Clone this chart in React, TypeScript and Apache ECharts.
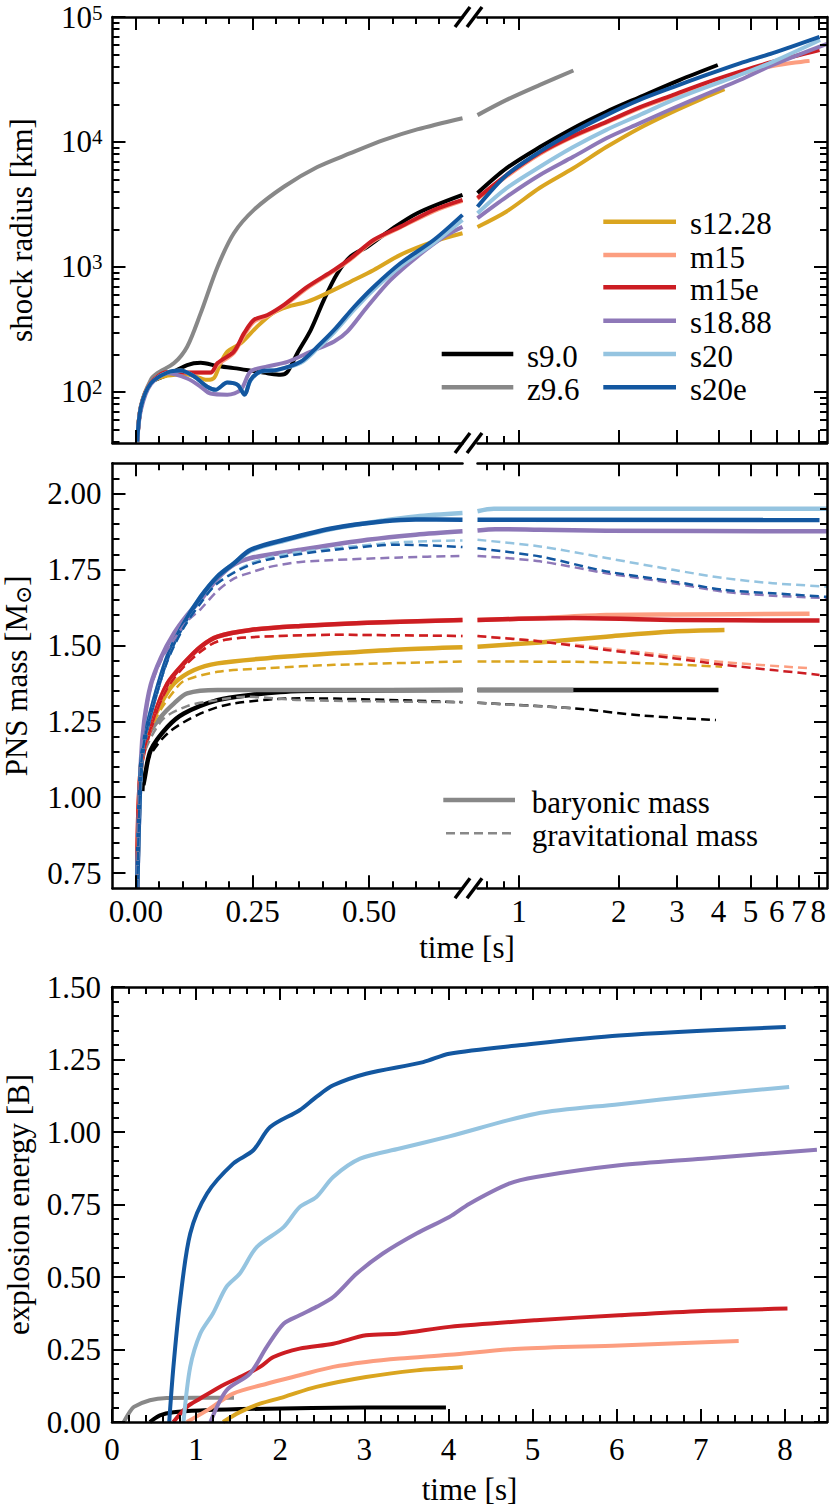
import React, { useEffect, useRef } from "react";
import * as echarts from "echarts";

const FONT = "'Liberation Serif', 'DejaVu Serif', serif";
const FS = 31;

// ---------- models ----------
const models = ["s9.0", "z9.6", "s12.28", "m15", "m15e", "s18.88", "s20", "s20e"];
const colors = ["#000000", "#888888", "#DAA520", "#FC9E80", "#CC1D23", "#8E78B8", "#95C4E0", "#1357A0"];

// ---------- shock radius [km] vs time [s] ----------
const radiusS90 = [[0.003,40],[0.011,76],[0.032,118],[0.068,137],[0.11,164],[0.139,171],[0.175,161],[0.21,155],[0.246,148],[0.282,141],[0.31,137],[0.325,145],[0.346,204],[0.375,314],[0.403,545],[0.432,890],[0.46,1210],[0.496,1450],[0.546,1980],[0.603,2690],[0.7,3770],[0.75,3900],[0.918,6170],[1.157,9100],[1.458,12900],[1.836,17460],[2.31,22800],[3.05,31300],[3.98,41300]];
const radiusZ96 = [[0.003,40],[0.011,78],[0.032,125],[0.046,141],[0.082,170],[0.11,230],[0.139,427],[0.175,1000],[0.21,1860],[0.253,2860],[0.318,4400],[0.389,6300],[0.46,8130],[0.532,10380],[0.603,12600],[0.7,15500],[0.75,16400],[0.918,21700],[1.157,28600],[1.46,37300]];
const radiusS1228 = [[0.003,40],[0.011,76],[0.032,118],[0.068,135],[0.11,138],[0.153,125],[0.168,130],[0.18,165],[0.196,210],[0.225,245],[0.26,333],[0.293,426],[0.325,480],[0.368,527],[0.41,617],[0.46,762],[0.51,946],[0.567,1250],[0.639,1600],[0.7,1860],[0.75,2090],[0.918,2780],[1.157,4300],[1.458,6160],[1.836,9100],[2.31,12900],[2.92,17500],[3.68,23000],[4.17,26500]];
const radiusM15 = [[0.003,40],[0.011,76],[0.032,118],[0.068,143],[0.11,142],[0.16,142],[0.175,165],[0.21,205],[0.232,285],[0.253,365],[0.282,405],[0.318,490],[0.368,680],[0.425,930],[0.46,1150],[0.51,1620],[0.567,2070],[0.639,2800],[0.7,3380],[0.75,3500],[0.918,5300],[1.157,8000],[1.458,11000],[1.836,14300],[2.31,18600],[2.92,23300],[3.68,29000],[4.64,35000],[5.83,40500],[7.53,44700]];
const radiusM15e = [[0.003,40],[0.011,76],[0.032,118],[0.068,144],[0.11,143],[0.16,143],[0.175,170],[0.21,210],[0.232,295],[0.253,377],[0.282,413],[0.318,500],[0.368,695],[0.425,946],[0.46,1170],[0.51,1650],[0.567,2100],[0.639,2860],[0.7,3440],[0.75,3570],[0.918,5440],[1.157,8200],[1.458,11200],[1.836,14500],[2.31,18900],[2.92,23800],[3.68,29800],[4.64,36500],[5.83,43800],[8.07,54500]];
const radiusS1888 = [[0.003,40],[0.011,72],[0.032,115],[0.068,141],[0.11,128],[0.139,110],[0.16,97],[0.196,95],[0.225,104],[0.246,146],[0.282,160],[0.325,174],[0.375,210],[0.425,253],[0.453,303],[0.496,480],[0.546,787],[0.603,1210],[0.66,1740],[0.7,2090],[0.75,2460],[0.918,3640],[1.157,5440],[1.458,7600],[1.836,10700],[2.31,14100],[2.92,18600],[3.68,24200],[4.64,31300],[5.83,41300],[8.5,61000]];
const radiusS20 = [[0.003,40],[0.011,76],[0.032,117],[0.068,143],[0.096,148],[0.125,133],[0.153,110],[0.171,104],[0.196,119],[0.218,114],[0.233,97],[0.246,124],[0.268,145],[0.303,150],[0.353,170],[0.389,222],[0.425,300],[0.468,455],[0.51,660],[0.567,1010],[0.639,1560],[0.7,2380],[0.75,2690],[0.918,4270],[1.157,6330],[1.458,9100],[1.836,12500],[2.31,16400],[2.92,21700],[3.68,27500],[4.64,34400],[5.83,43800],[8.1,65500]];
const radiusS20e = [[0.003,40],[0.011,76],[0.032,117],[0.068,143],[0.096,148],[0.125,133],[0.153,110],[0.171,104],[0.196,119],[0.218,114],[0.233,95],[0.246,125],[0.268,146],[0.303,150],[0.353,174],[0.389,230],[0.425,313],[0.468,480],[0.51,695],[0.567,1070],[0.639,1650],[0.7,2610],[0.75,3030],[0.918,5440],[1.157,8360],[1.458,12000],[1.836,16400],[2.31,21700],[2.92,27500],[3.68,34400],[4.64,42600],[5.83,51400],[8.07,69400]];

// ---------- PNS baryonic mass [Msun] ----------
const baryonS90 = [[0.016,1.04],[0.018,1.056],[0.032,1.155],[0.068,1.232],[0.103,1.276],[0.175,1.32],[0.246,1.337],[0.35,1.35],[0.7,1.353],[0.75,1.353],[4.0,1.353]];
const baryonZ96 = [[0.003,0.7],[0.011,1.1],[0.025,1.2],[0.054,1.265],[0.082,1.309],[0.11,1.342],[0.175,1.353],[0.7,1.353],[0.75,1.353],[1.46,1.353]];
const baryonS1228 = [[0.003,0.7],[0.011,1.1],[0.025,1.21],[0.054,1.309],[0.082,1.375],[0.125,1.419],[0.175,1.441],[0.282,1.458],[0.425,1.474],[0.567,1.487],[0.7,1.494],[0.75,1.496],[1.157,1.51],[1.836,1.529],[2.92,1.546],[4.17,1.551]];
const baryonM15 = [[0.003,0.7],[0.011,1.1],[0.039,1.265],[0.068,1.375],[0.103,1.441],[0.139,1.496],[0.175,1.529],[0.246,1.551],[0.353,1.564],[0.496,1.575],[0.7,1.584],[0.75,1.584],[1.157,1.59],[1.836,1.6],[3.0,1.602],[7.53,1.604]];
const baryonM15e = [[0.003,0.7],[0.011,1.1],[0.039,1.265],[0.068,1.375],[0.103,1.441],[0.139,1.496],[0.175,1.529],[0.246,1.551],[0.353,1.564],[0.496,1.575],[0.7,1.584],[0.75,1.584],[1.458,1.59],[2.92,1.584],[8.07,1.582]];
const baryonS1888 = [[0.003,0.7],[0.011,1.12],[0.018,1.25],[0.032,1.37],[0.054,1.46],[0.082,1.54],[0.11,1.6],[0.139,1.65],[0.175,1.72],[0.21,1.766],[0.246,1.788],[0.353,1.815],[0.496,1.848],[0.6,1.865],[0.7,1.876],[0.75,1.879],[0.85,1.883],[1.157,1.881],[1.836,1.878],[8.5,1.876]];
const baryonS20 = [[0.003,0.7],[0.011,1.1],[0.02,1.2],[0.039,1.32],[0.068,1.463],[0.103,1.573],[0.139,1.66],[0.175,1.727],[0.21,1.77],[0.246,1.812],[0.318,1.845],[0.425,1.885],[0.532,1.912],[0.6,1.925],[0.7,1.936],[0.75,1.942],[0.84,1.95],[8.5,1.95]];
const baryonS20e = [[0.003,0.7],[0.011,1.1],[0.02,1.2],[0.039,1.32],[0.068,1.463],[0.103,1.573],[0.139,1.66],[0.175,1.727],[0.21,1.77],[0.246,1.815],[0.318,1.848],[0.425,1.887],[0.532,1.909],[0.6,1.915],[0.7,1.914],[0.75,1.914],[8.07,1.913]];

// ---------- PNS gravitational mass [Msun] ----------
const gravS90 = [[0.016,1.02],[0.025,1.12],[0.068,1.21],[0.139,1.276],[0.21,1.309],[0.353,1.326],[0.7,1.313],[0.75,1.311],[1.458,1.293],[2.31,1.27],[3.93,1.254]];
const gravZ96 = [[0.003,0.7],[0.011,1.1],[0.054,1.25],[0.11,1.3],[0.175,1.32],[0.233,1.331],[0.353,1.32],[0.7,1.313],[0.75,1.311],[1.458,1.293]];
const gravS1228 = [[0.003,0.7],[0.011,1.1],[0.025,1.2],[0.054,1.29],[0.082,1.35],[0.103,1.383],[0.175,1.413],[0.282,1.425],[0.425,1.436],[0.7,1.447],[0.75,1.447],[1.458,1.446],[2.31,1.442],[4.1,1.43]];
const gravM15 = [[0.003,0.7],[0.011,1.1],[0.039,1.26],[0.068,1.36],[0.103,1.43],[0.139,1.48],[0.175,1.513],[0.246,1.527],[0.425,1.535],[0.7,1.531],[0.75,1.531],[1.157,1.515],[1.836,1.49],[2.92,1.465],[4.15,1.445],[7.5,1.425]];
const gravM15e = [[0.003,0.7],[0.011,1.1],[0.039,1.26],[0.068,1.36],[0.103,1.43],[0.139,1.48],[0.175,1.513],[0.246,1.527],[0.425,1.535],[0.7,1.531],[0.75,1.531],[1.157,1.513],[1.836,1.485],[2.92,1.458],[4.15,1.436],[5.83,1.419],[8.07,1.403]];
const gravS1888 = [[0.003,0.7],[0.011,1.12],[0.018,1.24],[0.032,1.36],[0.054,1.45],[0.082,1.52],[0.11,1.58],[0.139,1.62],[0.175,1.68],[0.21,1.72],[0.246,1.74],[0.282,1.757],[0.353,1.775],[0.567,1.79],[0.7,1.795],[0.75,1.795],[1.157,1.777],[1.836,1.738],[2.92,1.705],[4.15,1.677],[5.83,1.664],[8.5,1.656]];
const gravS20 = [[0.003,0.7],[0.011,1.1],[0.02,1.2],[0.039,1.31],[0.068,1.45],[0.103,1.56],[0.139,1.64],[0.175,1.705],[0.246,1.77],[0.318,1.8],[0.425,1.82],[0.567,1.84],[0.7,1.846],[0.75,1.848],[1.157,1.826],[1.836,1.788],[2.92,1.749],[4.15,1.722],[5.83,1.705],[8.5,1.694]];
const gravS20e = [[0.003,0.7],[0.011,1.1],[0.02,1.2],[0.039,1.31],[0.068,1.45],[0.103,1.56],[0.139,1.64],[0.175,1.705],[0.246,1.766],[0.318,1.793],[0.425,1.815],[0.567,1.832],[0.7,1.824],[0.75,1.82],[1.157,1.793],[1.836,1.744],[2.92,1.711],[4.15,1.683],[5.83,1.672],[8.5,1.66]];

// ---------- explosion energy [B] ----------
const energyS90 = [[0.45,0],[0.57,0.023],[0.73,0.034],[1.05,0.04],[1.84,0.046],[3.02,0.05],[3.97,0.05]];
const energyZ96 = [[0.14,0],[0.2,0.03],[0.26,0.052],[0.45,0.075],[0.65,0.083],[1.0,0.084],[1.45,0.084]];
const energyS1228 = [[1.32,0],[1.52,0.034],[1.76,0.063],[2.04,0.086],[2.43,0.121],[3.02,0.155],[3.62,0.178],[4.01,0.186],[4.17,0.19]];
const energyM15 = [[0.89,0],[1.13,0.04],[1.44,0.098],[1.84,0.132],[2.23,0.161],[2.63,0.19],[3.02,0.207],[3.42,0.219],[4.01,0.232],[4.84,0.253],[6.03,0.264],[7.45,0.279]];
const energyM15e = [[0.73,0],[0.89,0.052],[1.05,0.081],[1.28,0.121],[1.52,0.155],[1.76,0.19],[1.92,0.224],[2.23,0.253],[2.63,0.27],[3.02,0.299],[3.42,0.305],[4.01,0.328],[5.04,0.351],[6.03,0.368],[7.02,0.383],[8.03,0.391]];
const energyS1888 = [[1.17,0],[1.36,0.109],[1.64,0.167],[1.84,0.259],[2.04,0.339],[2.23,0.368],[2.43,0.397],[2.63,0.431],[2.91,0.512],[3.22,0.581],[3.62,0.65],[4.01,0.707],[4.25,0.753],[4.72,0.822],[5.04,0.845],[6.03,0.885],[7.02,0.908],[8.38,0.939]];
const energyS20 = [[0.85,0],[0.93,0.19],[1.05,0.305],[1.2,0.374],[1.36,0.466],[1.52,0.512],[1.72,0.603],[2.04,0.672],[2.23,0.741],[2.43,0.776],[2.63,0.845],[2.95,0.908],[3.42,0.943],[4.01,0.985],[5.04,1.063],[6.03,1.096],[7.02,1.127],[8.05,1.155]];
const energyS20e = [[0.68,0],[0.73,0.19],[0.81,0.42],[0.93,0.65],[1.13,0.788],[1.44,0.891],[1.68,0.937],[1.88,1.017],[2.23,1.075],[2.43,1.121],[2.63,1.161],[3.02,1.201],[3.7,1.241],[4.01,1.27],[4.84,1.299],[6.03,1.333],[8.01,1.362]];

const radius = [radiusS90, radiusZ96, radiusS1228, radiusM15, radiusM15e, radiusS1888, radiusS20, radiusS20e];
const baryon = [baryonS90, baryonZ96, baryonS1228, baryonM15, baryonM15e, baryonS1888, baryonS20, baryonS20e];
const grav = [gravS90, gravZ96, gravS1228, gravM15, gravM15e, gravS1888, gravS20, gravS20e];
const energy = [energyS90, energyZ96, energyS1228, energyM15, energyM15e, energyS1888, energyS20, energyS20e];

// ---------- axes: ranges and ticks ----------
const LEFT_MIN = -0.05, LEFT_MAX = 0.7, RIGHT_MIN = 0.75, RIGHT_MAX = 8.5;
const leftMajor = [0, 0.25, 0.5];
const leftMinor = [0.05, 0.1, 0.15, 0.2, 0.3, 0.35, 0.4, 0.45, 0.55, 0.6, 0.65];
const rightMajor = [1, 2, 3, 4, 5, 6, 7, 8];
const rightMinor = [0.8, 0.9];
const radiusMajor = [100, 1000, 10000, 100000];
const radiusMinor: number[] = [];
[10, 100, 1000, 10000].forEach((d) => [2, 3, 4, 5, 6, 7, 8, 9].forEach((k) => { if (k * d > 39) radiusMinor.push(k * d); }));
const massMajor = [0.75, 1.0, 1.25, 1.5, 1.75, 2.0];
const massMinor: number[] = [];
for (let k = 15; k <= 41; k++) if (k % 5 !== 0) massMinor.push(k / 20);
const energyXMajor = [0, 1, 2, 3, 4, 5, 6, 7, 8];
const energyXMinor: number[] = [];
for (let k = 1; k <= 42; k++) if (k % 5 !== 0) energyXMinor.push(k / 5);
const energyYMajor = [0, 0.25, 0.5, 0.75, 1.0, 1.25, 1.5];
const energyYMinor: number[] = [];
for (let k = 1; k < 30; k++) if (k % 5 !== 0) energyYMinor.push(k / 20);

const fmt2 = (v: number) => v.toFixed(2);
const fmtInt = (v: number) => String(Math.round(v));

function mkAxis(o: any) {
  const a: any = {
    type: o.type,
    gridIndex: o.grid,
    min: o.min,
    max: o.max,
    position: o.pos,
    axisLine: { show: !!o.line, onZero: false, lineStyle: { color: "#000", width: 2.5 } },
    axisTick: {
      show: true,
      inside: true,
      length: o.major ? 13 : 7,
      customValues: o.ticks,
      lineStyle: { color: "#000", width: 2 },
    },
    axisLabel: o.labels
      ? {
          show: true,
          customValues: o.labels,
          formatter: o.fmt,
          margin: o.margin,
          color: "#000",
          fontFamily: FONT,
          fontSize: FS,
          lineHeight: o.lineHeight,
          rich: o.rich,
        }
      : { show: false },
    splitLine: { show: false },
    silent: true,
    z: 5,
  };
  if (o.type === "log") a.logBase = 10;
  if (o.name) {
    a.name = o.name;
    a.nameLocation = "middle";
    a.nameGap = o.nameGap;
    a.nameTextStyle = { color: "#000", fontFamily: FONT, fontSize: FS, rich: o.nameRich };
  }
  return a;
}

const txt = (text: string, x: number, y: number, align = "left") => ({
  type: "text",
  z: 100,
  x,
  y,
  style: { text, fill: "#000", font: `${FS}px ${FONT}`, align, verticalAlign: "middle", textAlign: align, textVerticalAlign: "middle" },
});

function buildOption() {
  const xAxis: any[] = [];
  const yAxis: any[] = [];
  const series: any[] = [];

  const frameX = (grid: number, type: string, min: number, max: number, major: number[], minor: number[], lab?: any) => {
    xAxis.push(mkAxis({ grid, type, min, max, pos: "bottom", line: true, major: true, ticks: major, ...(lab || {}) }));
    const main = xAxis.length - 1;
    xAxis.push(mkAxis({ grid, type, min, max, pos: "bottom", ticks: minor }));
    xAxis.push(mkAxis({ grid, type, min, max, pos: "top", line: true, major: true, ticks: major }));
    xAxis.push(mkAxis({ grid, type, min, max, pos: "top", ticks: minor }));
    return main;
  };
  const frameY = (grid: number, type: string, min: number, max: number, major: number[], minor: number[], sides: string[], lab?: any) => {
    let main = -1;
    sides.forEach((pos) => {
      yAxis.push(mkAxis({ grid, type, min, max, pos, line: true, major: true, ticks: major, ...(pos === "left" ? lab || {} : {}) }));
      if (main < 0) main = yAxis.length - 1;
      yAxis.push(mkAxis({ grid, type, min, max, pos, ticks: minor }));
    });
    return main;
  };

  const fmtPow = (v: number) => "10{sup|" + Math.round(Math.log10(v)) + "}";
  const supRich = { sup: { fontSize: 21, lineHeight: 14, verticalAlign: "top", fontFamily: FONT, color: "#000" } };

  // top panel
  const x0 = frameX(0, "value", LEFT_MIN, LEFT_MAX, leftMajor, leftMinor);
  const y0 = frameY(0, "log", 39, 100000, radiusMajor, radiusMinor, ["left"], {
    labels: radiusMajor, fmt: fmtPow, margin: 10, rich: supRich, lineHeight: 30,
    name: "shock radius [km]", nameGap: 76,
  });
  const x1 = frameX(1, "log", RIGHT_MIN, RIGHT_MAX, rightMajor, rightMinor);
  const y1 = frameY(1, "log", 39, 100000, radiusMajor, radiusMinor, ["right"]);
  // middle panel (its x tick labels are placed after init via convertToPixel)
  const x2 = frameX(2, "value", LEFT_MIN, LEFT_MAX, leftMajor, leftMinor);
  const y2 = frameY(2, "value", 0.7, 2.1, massMajor, massMinor, ["left"], {
    labels: massMajor, fmt: fmt2, margin: 11,
    name: "PNS mass [M{sub|⊙}]", nameGap: 78,
    nameRich: { sub: { fontSize: 22, fontFamily: "'DejaVu Serif', serif", color: "#000", padding: [14, 0, 0, 0] } },
  });
  const x3 = frameX(3, "log", RIGHT_MIN, RIGHT_MAX, rightMajor, rightMinor);
  const y3 = frameY(3, "value", 0.7, 2.1, massMajor, massMinor, ["right"]);
  // bottom panel
  const x4 = frameX(4, "value", 0, 8.5, energyXMajor, energyXMinor, {
    labels: energyXMajor, fmt: fmtInt, margin: 12,
    name: "time [s]", nameGap: 52,
  });
  const y4 = frameY(4, "value", 0, 1.5, energyYMajor, energyYMinor, ["left", "right"], {
    labels: energyYMajor, fmt: fmt2, margin: 11,
    name: "explosion energy [B]", nameGap: 78,
  });

  const line = (data: number[][], xi: number, yi: number, color: string, width: number, dashed = false) => ({
    type: "line",
    data,
    xAxisIndex: xi,
    yAxisIndex: yi,
    showSymbol: false,
    symbol: "none",
    smooth: 0.3,
    lineStyle: { color, width, type: dashed ? [9, 5] : "solid", cap: "butt", join: "round" },
    itemStyle: { color },
    emphasis: { disabled: true },
    silent: true,
    clip: true,
    z: 2,
  });
  const leftPart = (d: number[][]) => d.filter((p) => p[0] <= LEFT_MAX + 1e-9);
  const rightPart = (d: number[][]) => d.filter((p) => p[0] >= RIGHT_MIN - 1e-9);

  models.forEach((m, i) => {
    series.push(line(leftPart(radius[i]), x0, y0, colors[i], 4));
    series.push(line(rightPart(radius[i]), x1, y1, colors[i], 4));
  });
  models.forEach((m, i) => {
    series.push(line(leftPart(baryon[i]), x2, y2, colors[i], 4.5));
    series.push(line(rightPart(baryon[i]), x3, y3, colors[i], 4.5));
  });
  models.forEach((m, i) => {
    series.push(line(leftPart(grav[i]), x2, y2, colors[i], 2.5, true));
    series.push(line(rightPart(grav[i]), x3, y3, colors[i], 2.5, true));
  });
  models.forEach((m, i) => {
    series.push(line(energy[i], x4, y4, colors[i], 4));
  });

  // graphic: break markers, legends, middle x-axis title
  const graphic: any[] = [];
  [17, 443, 888.3].forEach((y) => {
    graphic.push({ type: "line", z: 100, shape: { x1: 455, y1: y + 10, x2: 470, y2: y - 10 }, style: { stroke: "#000", lineWidth: 3.5 } });
    graphic.push({ type: "line", z: 100, shape: { x1: 467, y1: y + 10, x2: 482, y2: y - 10 }, style: { stroke: "#000", lineWidth: 3.5 } });
  });
  const legLine = (x1: number, x2: number, y: number, color: string, w: number, dash?: number[]) => ({
    type: "line",
    z: 100,
    shape: { x1, y1: y, x2, y2: y },
    style: { stroke: color, lineWidth: w, lineDash: dash },
  });
  const col1 = [0, 1];
  const col1Y = [354, 387.3];
  col1.forEach((mi, k) => {
    graphic.push(legLine(441.7, 513.3, col1Y[k], colors[mi], 4.5));
    graphic.push(txt(models[mi], 527, col1Y[k] + 2));
  });
  const col2 = [2, 3, 4, 5, 6, 7];
  const col2Y = [221.7, 255, 287.3, 320.7, 354, 387.3];
  col2.forEach((mi, k) => {
    graphic.push(legLine(603.3, 676, col2Y[k], colors[mi], 4.5));
    graphic.push(txt(models[mi], 690, col2Y[k] + 2));
  });
  graphic.push(legLine(443.3, 515, 800, "#888888", 4.5));
  graphic.push(txt("baryonic mass", 531.7, 802));
  graphic.push(legLine(446, 513, 833.3, "#888888", 2.5, [9, 5]));
  graphic.push(txt("gravitational mass", 531.7, 835));
  graphic.push(txt("time [s]", 467, 947, "center"));

  const option = {
    animation: false,
    backgroundColor: "#ffffff",
    textStyle: { fontFamily: FONT },
    grid: [
      { left: 112.5, top: 17, width: 350, height: 426, containLabel: false, outerBoundsMode: "none" },
      { left: 477.5, top: 17, width: 349.5, height: 426, containLabel: false, outerBoundsMode: "none" },
      { left: 112.5, top: 463.3, width: 350, height: 425, containLabel: false, outerBoundsMode: "none" },
      { left: 477.5, top: 463.3, width: 349.5, height: 425, containLabel: false, outerBoundsMode: "none" },
      { left: 112, top: 987, width: 715, height: 435, containLabel: false, outerBoundsMode: "none" },
    ],
    xAxis,
    yAxis,
    series,
    graphic,
  };
  // middle-panel x tick labels: value -> pixel through the axes after init
  const midLabels = [
    ...leftMajor.map((v) => ({ axis: x2, value: v, text: fmt2(v) })),
    ...rightMajor.map((v) => ({ axis: x3, value: v, text: fmtInt(v) })),
  ];
  return { option, midLabels };
}

export default function App() {
  const ref = useRef<HTMLDivElement>(null);
  useEffect(() => {
    if (!ref.current) return;
    const chart = echarts.init(ref.current, null, { renderer: "svg" });
    const { option, midLabels } = buildOption();
    chart.setOption(option as any);
    const extra = midLabels.map((l) => {
      const px = chart.convertToPixel({ xAxisIndex: l.axis } as any, l.value) as any;
      return txt(l.text, Number(px), 911, "center");
    });
    chart.setOption({ graphic: [...option.graphic, ...extra] } as any);
    return () => chart.dispose();
  }, []);
  return (
    <div
      ref={ref}
      style={{ position: "absolute", left: 0, top: 0, width: 830, height: 1507, background: "#fff" }}
    />
  );
}
